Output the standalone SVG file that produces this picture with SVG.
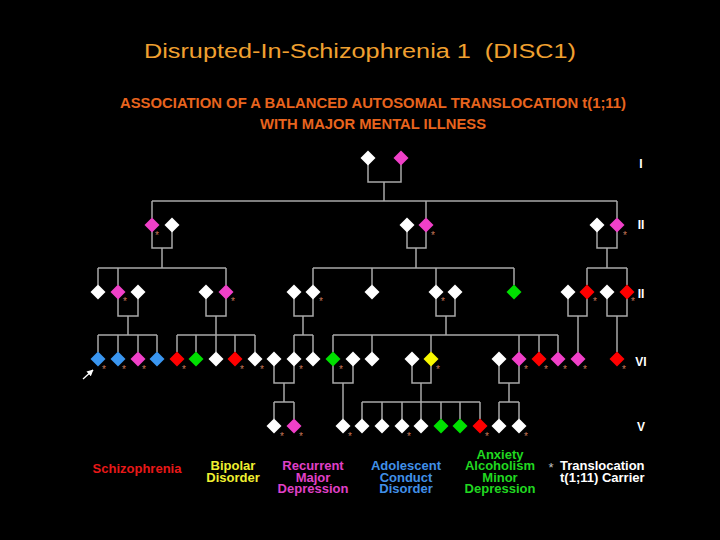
<svg xmlns="http://www.w3.org/2000/svg" width="720" height="540" viewBox="0 0 720 540">
<style>
.ln{stroke:#A8A8A8;stroke-width:1.5;fill:none}
.W{fill:#FFFFFF}.P{fill:#F040C8}.R{fill:#FF0000}.B{fill:#3A96F0}.G{fill:#00E000}.Y{fill:#F8F800}
.st{font-family:"Liberation Sans",Arial,sans-serif;font-size:10px;fill:#C8785A;text-anchor:middle}
.gen{font-family:"Liberation Sans",Arial,sans-serif;font-size:12px;font-weight:bold;fill:#FFFFFF;text-anchor:middle}
.lg{font-family:"Liberation Sans",Arial,sans-serif;font-size:13px;font-weight:bold;text-anchor:middle}
</style>
<defs>
<path id="d" d="M0,-7.5 L7.5,0 L0,7.5 L-7.5,0 Z"/>
<marker id="ah" viewBox="0 0 10 10" refX="9" refY="5" markerWidth="5" markerHeight="5" orient="auto"><path d="M0,0 L10,5 L0,10 Z" fill="#FFFFFF"/></marker>
</defs>
<rect width="720" height="540" fill="#000000"/>
<text x="360" y="58" xml:space="preserve" font-family="'Liberation Sans',Arial,sans-serif" font-size="20" fill="#F0A030" text-anchor="middle" textLength="432" lengthAdjust="spacingAndGlyphs">Disrupted-In-Schizophrenia 1  (DISC1)</text>
<text x="373" y="108" font-family="'Liberation Sans',Arial,sans-serif" font-size="14.5" font-weight="bold" fill="#E8641E" text-anchor="middle" textLength="506" lengthAdjust="spacingAndGlyphs">ASSOCIATION OF A BALANCED AUTOSOMAL TRANSLOCATION t(1;11)</text>
<text x="373" y="129" font-family="'Liberation Sans',Arial,sans-serif" font-size="14.5" font-weight="bold" fill="#E8641E" text-anchor="middle" textLength="226" lengthAdjust="spacingAndGlyphs">WITH MAJOR MENTAL ILLNESS</text>

<g id="connectors" class="ln">
<!-- Gen I -->
<path d="M368,158V182H401V158M384,182V201M152,201H617M152,201V218M426,201V218M617,201V218"/>
<!-- Gen II couples -->
<path d="M152,225V248H172V225M162,248V268M98,268H226M98,268V285M118,268V285M226,268V285"/>
<path d="M407,225V248H426V225M416,248V268M313,268H514M313,268V285M372,268V285M436,268V285M514,268V285"/>
<path d="M597,225V248H617V225M607,248V268M587,268H627M587,268V285M627,268V285"/>
<!-- Gen III couples -->
<path d="M118,292V316H138V292M128,316V335M98,335H157M98,335V352M118,335V352M138,335V352M157,335V352"/>
<path d="M206,292V316H226V292M216,316V335M177,335H255M177,335V352M196,335V352M216,335V352M235,335V352M255,335V352"/>
<path d="M294,292V316H313V292M303,316V335M294,335H313M294,335V352M313,335V352"/>
<path d="M436,292V316H455V292M446,316V335M333,335H558M333,335V352M372,335V352M431,335V352M519,335V352M539,335V352M558,335V352"/>
<path d="M568,292V316H587V292M578,316V352"/>
<path d="M607,292V316H627V292M617,316V352"/>
<!-- Gen IV couples -->
<path d="M274,359V383H294V359M284,383V402M274,402H294M274,402V419M294,402V419"/>
<path d="M333,359V383H353V359M343,383V419"/>
<path d="M412,359V383H431V359M421,383V402M362,402H480M362,402V419M382,402V419M402,402V419M421,402V419M441,402V419M460,402V419M480,402V419"/>
<path d="M499,359V383H519V359M509,383V402M499,402H519M499,402V419M519,402V419"/>
</g>

<g id="gen1">
<use id="I-1" href="#d" x="368" y="158" class="W"/>
<use id="I-2" href="#d" x="401" y="158" class="P"/>
</g>
<g id="gen2">
<use id="II-1" href="#d" x="152" y="225" class="P"/>
<use id="II-2" href="#d" x="172" y="225" class="W"/>
<use id="II-3" href="#d" x="407" y="225" class="W"/>
<use id="II-4" href="#d" x="426" y="225" class="P"/>
<use id="II-5" href="#d" x="597" y="225" class="W"/>
<use id="II-6" href="#d" x="617" y="225" class="P"/>
</g>
<g id="gen3">
<use id="III-1" href="#d" x="98" y="292" class="W"/>
<use id="III-2" href="#d" x="118" y="292" class="P"/>
<use id="III-3" href="#d" x="138" y="292" class="W"/>
<use id="III-4" href="#d" x="206" y="292" class="W"/>
<use id="III-5" href="#d" x="226" y="292" class="P"/>
<use id="III-6" href="#d" x="294" y="292" class="W"/>
<use id="III-7" href="#d" x="313" y="292" class="W"/>
<use id="III-8" href="#d" x="372" y="292" class="W"/>
<use id="III-9" href="#d" x="436" y="292" class="W"/>
<use id="III-10" href="#d" x="455" y="292" class="W"/>
<use id="III-11" href="#d" x="514" y="292" class="G"/>
<use id="III-12" href="#d" x="568" y="292" class="W"/>
<use id="III-13" href="#d" x="587" y="292" class="R"/>
<use id="III-14" href="#d" x="607" y="292" class="W"/>
<use id="III-15" href="#d" x="627" y="292" class="R"/>
</g>
<g id="gen4">
<use id="IV-1" href="#d" x="98" y="359" class="B"/>
<use id="IV-2" href="#d" x="118" y="359" class="B"/>
<use id="IV-3" href="#d" x="138" y="359" class="P"/>
<use id="IV-4" href="#d" x="157" y="359" class="B"/>
<use id="IV-5" href="#d" x="177" y="359" class="R"/>
<use id="IV-6" href="#d" x="196" y="359" class="G"/>
<use id="IV-7" href="#d" x="216" y="359" class="W"/>
<use id="IV-8" href="#d" x="235" y="359" class="R"/>
<use id="IV-9" href="#d" x="255" y="359" class="W"/>
<use id="IV-10" href="#d" x="274" y="359" class="W"/>
<use id="IV-11" href="#d" x="294" y="359" class="W"/>
<use id="IV-12" href="#d" x="313" y="359" class="W"/>
<use id="IV-13" href="#d" x="333" y="359" class="G"/>
<use id="IV-14" href="#d" x="353" y="359" class="W"/>
<use id="IV-15" href="#d" x="372" y="359" class="W"/>
<use id="IV-16" href="#d" x="412" y="359" class="W"/>
<use id="IV-17" href="#d" x="431" y="359" class="Y"/>
<use id="IV-18" href="#d" x="499" y="359" class="W"/>
<use id="IV-19" href="#d" x="519" y="359" class="P"/>
<use id="IV-20" href="#d" x="539" y="359" class="R"/>
<use id="IV-21" href="#d" x="558" y="359" class="P"/>
<use id="IV-22" href="#d" x="578" y="359" class="P"/>
<use id="IV-23" href="#d" x="617" y="359" class="R"/>
</g>
<g id="gen5">
<use id="V-1" href="#d" x="274" y="426" class="W"/>
<use id="V-2" href="#d" x="294" y="426" class="P"/>
<use id="V-3" href="#d" x="343" y="426" class="W"/>
<use id="V-4" href="#d" x="362" y="426" class="W"/>
<use id="V-5" href="#d" x="382" y="426" class="W"/>
<use id="V-6" href="#d" x="402" y="426" class="W"/>
<use id="V-7" href="#d" x="421" y="426" class="W"/>
<use id="V-8" href="#d" x="441" y="426" class="G"/>
<use id="V-9" href="#d" x="460" y="426" class="G"/>
<use id="V-10" href="#d" x="480" y="426" class="R"/>
<use id="V-11" href="#d" x="499" y="426" class="W"/>
<use id="V-12" href="#d" x="519" y="426" class="W"/>
</g>

<g id="carriers" class="st">
<text x="157" y="239">*</text><text x="433" y="239">*</text><text x="625" y="239">*</text>
<text x="125" y="305">*</text><text x="233" y="305">*</text><text x="321" y="305">*</text><text x="443" y="305">*</text><text x="595" y="305">*</text><text x="633" y="305">*</text>
<text x="104" y="373">*</text><text x="124" y="373">*</text><text x="144" y="373">*</text><text x="184" y="373">*</text><text x="242" y="373">*</text><text x="262" y="373">*</text><text x="301" y="373">*</text><text x="341" y="373">*</text><text x="438" y="373">*</text><text x="526" y="373">*</text><text x="546" y="373">*</text><text x="565" y="373">*</text><text x="585" y="373">*</text><text x="624" y="373">*</text>
<text x="282" y="440">*</text><text x="301" y="440">*</text><text x="350" y="440">*</text><text x="409" y="440">*</text><text x="487" y="440">*</text><text x="526" y="440">*</text>
</g>

<g id="generation-labels" class="gen">
<text x="641" y="168">I</text>
<text x="641" y="229">II</text>
<text x="641" y="298">II</text>
<text x="641" y="366">VI</text>
<text x="641" y="431">V</text>
</g>

<g id="proband-arrow">
<line x1="83" y1="379" x2="93" y2="370" stroke="#FFFFFF" stroke-width="1.3" marker-end="url(#ah)"/>
</g>

<g id="legend" class="lg">
<text x="137" y="472.5" fill="#E81818">Schizophrenia</text>
<text x="233" y="470" fill="#F0F030">Bipolar</text>
<text x="233" y="481.5" fill="#F0F030">Disorder</text>
<text x="313" y="470" fill="#E040C8">Recurrent</text>
<text x="313" y="481.5" fill="#E040C8">Major</text>
<text x="313" y="493" fill="#E040C8">Depression</text>
<text x="406" y="470" fill="#4090E8">Adolescent</text>
<text x="406" y="481.5" fill="#4090E8">Conduct</text>
<text x="406" y="493" fill="#4090E8">Disorder</text>
<text x="500" y="458.5" fill="#20D820">Anxiety</text>
<text x="500" y="470" fill="#20D820">Alcoholism</text>
<text x="500" y="481.5" fill="#20D820">Minor</text>
<text x="500" y="493" fill="#20D820">Depression</text>
<text x="551" y="472" fill="#C0C0C0" font-weight="normal">*</text>
<text x="560" y="470" fill="#FFFFFF" text-anchor="start">Translocation</text>
<text x="560" y="481.5" fill="#FFFFFF" text-anchor="start">t(1;11) Carrier</text>
</g>
</svg>
